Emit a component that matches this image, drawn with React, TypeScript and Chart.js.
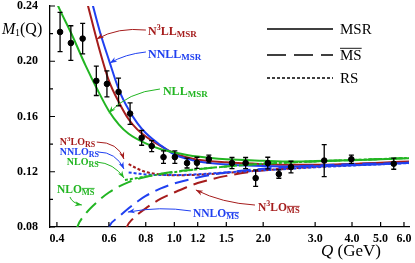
import React, { useEffect, useRef } from "react";
import { Chart, registerables } from "chart.js";
Chart.register(...registerables);

const GREEN = "#22b522";
const BLUE = "#2040f0";
const RED = "#a51c1c";
const SERIF = '"Liberation Serif", "DejaVu Serif", serif';

// Solid (MSR) curves
const Q_NLL_MSR = [0.39, 0.40, 0.45, 0.50, 0.55, 0.60, 0.65, 0.70, 0.80, 0.90, 1.0, 1.2, 1.5, 2.0, 2.5, 3.0, 4.0, 5.0, 6.3];
const M_NLL_MSR = [0.248, 0.242, 0.219, 0.197, 0.179, 0.164, 0.154, 0.1475, 0.1405, 0.1363, 0.134, 0.131, 0.129, 0.128, 0.1275, 0.1277, 0.1283, 0.129, 0.1298];
const Q_NNLL_MSR = [0.52, 0.53, 0.56, 0.60, 0.65, 0.70, 0.75, 0.80, 0.90, 1.0, 1.1, 1.2, 1.5, 2.0, 2.5, 3.0, 4.0, 5.0, 6.3];
const M_NNLL_MSR = [0.247, 0.240, 0.221, 0.201, 0.179, 0.165, 0.155, 0.148, 0.139, 0.1325, 0.1295, 0.1275, 0.1252, 0.1242, 0.1238, 0.124, 0.1247, 0.1255, 0.1265];
const Q_N3LL_MSR = [0.50, 0.51, 0.55, 0.60, 0.65, 0.70, 0.75, 0.80, 0.90, 1.0, 1.1, 1.2, 1.5, 2.0, 2.5, 3.0, 4.0, 5.0, 6.3];
const M_N3LL_MSR = [0.247, 0.240, 0.213, 0.186, 0.170, 0.158, 0.1505, 0.1455, 0.1385, 0.1333, 0.1305, 0.1287, 0.1268, 0.1255, 0.125, 0.125, 0.1257, 0.1265, 0.1275];

// Dashed (MS-bar) curves
const Q_NLO_MSB = [0.465, 0.47, 0.50, 0.55, 0.60, 0.70, 0.80, 0.90, 1.0, 1.2, 1.5, 2.0, 3.0, 4.0, 5.0, 6.3];
const M_NLO_MSB = [0.077, 0.0805, 0.0895, 0.0985, 0.105, 0.1125, 0.1163, 0.1185, 0.120, 0.1218, 0.1238, 0.1258, 0.1275, 0.1285, 0.1292, 0.130];
const Q_NNLO_MSB = [0.595, 0.60, 0.65, 0.70, 0.75, 0.80, 0.90, 1.0, 1.2, 1.5, 2.0, 3.0, 4.0, 5.0, 6.3];
const M_NNLO_MSB = [0.0775, 0.080, 0.0875, 0.0935, 0.0985, 0.1025, 0.108, 0.1115, 0.1158, 0.1195, 0.1222, 0.1245, 0.1255, 0.126, 0.1265];
const Q_N3LO_MSB = [0.685, 0.69, 0.72, 0.80, 0.90, 1.0, 1.1, 1.2, 1.5, 2.0, 3.0, 4.0, 5.0, 6.3];
const M_N3LO_MSB = [0.0775, 0.080, 0.0855, 0.0935, 0.1005, 0.105, 0.1088, 0.1118, 0.117, 0.121, 0.1242, 0.1255, 0.1262, 0.127];

// Dotted (RS) curves
const Q_NLO_RS = [0.68, 0.75, 0.80, 0.90, 1.0, 1.2, 1.5, 2.0, 3.0, 4.0, 5.0, 6.3];
const M_NLO_RS = [0.114, 0.1155, 0.1165, 0.1183, 0.1197, 0.1218, 0.1238, 0.1258, 0.1275, 0.1285, 0.1292, 0.130];
const Q_NNLO_RS = [0.70, 0.75, 0.80, 0.90, 1.0, 1.2, 1.5, 2.0, 3.0, 4.0, 5.0, 6.3];
const M_NNLO_RS = [0.1195, 0.1187, 0.118, 0.1176, 0.1176, 0.1182, 0.1195, 0.121, 0.1232, 0.1245, 0.1254, 0.1263];
const Q_N3LO_RS = [0.70, 0.75, 0.80, 0.90, 1.0, 1.2, 1.5, 2.0, 3.0, 4.0, 5.0, 6.3];
const M_N3LO_RS = [0.1255, 0.1222, 0.1198, 0.118, 0.1175, 0.1178, 0.1192, 0.121, 0.1235, 0.125, 0.126, 0.127];

// Data points with errors
const Q_POINTS = [0.410, 0.446, 0.489, 0.544, 0.591, 0.647, 0.708, 0.775, 0.838, 0.919, 1.004, 1.104, 1.193, 1.309, 1.568, 1.744, 1.886, 2.073, 2.26, 2.485, 3.22, 3.98, 5.54];
const M_POINTS = [0.2212, 0.2132, 0.2164, 0.1858, 0.1836, 0.1778, 0.1621, 0.1446, 0.1386, 0.1306, 0.1306, 0.1263, 0.1265, 0.1292, 0.1263, 0.1263, 0.1154, 0.1263, 0.1183, 0.1234, 0.1281, 0.1291, 0.1258];
const E_POINTS = [0.0142, 0.0125, 0.011, 0.0106, 0.0094, 0.010, 0.0078, 0.0054, 0.004, 0.0045, 0.0045, 0.0036, 0.004, 0.0028, 0.004, 0.004, 0.006, 0.0042, 0.003, 0.0042, 0.0116, 0.003, 0.004];

const X_TICKS = [0.4, 0.6, 0.8, 1.0, 1.2, 1.5, 2.0, 3.0, 4.0, 5.0, 6.0];
const Y_TICKS = [0.08, 0.12, 0.16, 0.20, 0.24];
const Y_MINOR = [0.10, 0.14, 0.18, 0.22];

type Seg = { t: string; s: number; dy?: number; over?: boolean };
// label anchor [Q, M], segments, colour
const LABELS: { at: [number, number]; segs: Seg[]; color: string }[] = [
  { at: [0.814, 0.219], color: RED, segs: [{ t: "N", s: 12 }, { t: "3", s: 8, dy: -5 }, { t: "LL", s: 12 }, { t: "MSR", s: 9, dy: 2 }] },
  { at: [0.814, 0.2023], color: BLUE, segs: [{ t: "NNLL", s: 12 }, { t: "MSR", s: 9, dy: 2 }] },
  { at: [0.915, 0.1759], color: GREEN, segs: [{ t: "NLL", s: 12 }, { t: "MSR", s: 9, dy: 2 }] },
  { at: [0.409, 0.1394], color: RED, segs: [{ t: "N", s: 10 }, { t: "3", s: 7, dy: -4 }, { t: "LO", s: 10 }, { t: "RS", s: 8, dy: 2 }] },
  { at: [0.409, 0.1321], color: BLUE, segs: [{ t: "NNLO", s: 10 }, { t: "RS", s: 8, dy: 2 }] },
  { at: [0.432, 0.1249], color: GREEN, segs: [{ t: "NLO", s: 10 }, { t: "RS", s: 8, dy: 2 }] },
  { at: [0.400, 0.1046], color: GREEN, segs: [{ t: "NLO", s: 11.5 }, { t: "MS", s: 8.5, dy: 2, over: true }] },
  { at: [1.156, 0.0872], color: BLUE, segs: [{ t: "NNLO", s: 11.5 }, { t: "MS", s: 8.5, dy: 2, over: true }] },
  { at: [1.92, 0.0916], color: RED, segs: [{ t: "N", s: 11.5 }, { t: "3", s: 8, dy: -5 }, { t: "LO", s: 11.5 }, { t: "MS", s: 8.5, dy: 2, over: true }] },
];
// arrows: start, control, end in data coordinates
const ARROWS: { p: [number, number][]; color: string }[] = [
  { color: RED, p: [[0.801, 0.2226], [0.644, 0.2248], [0.546, 0.2161]] },
  { color: BLUE, p: [[0.801, 0.2067], [0.680, 0.2052], [0.605, 0.1987]] },
  { color: GREEN, p: [[0.894, 0.1799], [0.696, 0.1777], [0.600, 0.1625]] },
  { color: RED, p: [[0.546, 0.1415], [0.644, 0.1415], [0.675, 0.1292]] },
  { color: BLUE, p: [[0.551, 0.1343], [0.634, 0.1343], [0.675, 0.1220]] },
  { color: GREEN, p: [[0.546, 0.1270], [0.624, 0.1263], [0.675, 0.1155]] },
  { color: GREEN, p: [[0.443, 0.1017], [0.450, 0.0973], [0.486, 0.0959]] },
  { color: BLUE, p: [[1.138, 0.0916], [0.894, 0.0952], [0.696, 0.0908]] },
  { color: RED, p: [[1.876, 0.0959], [1.450, 0.0973], [1.183, 0.1068]] },
];

const zip = (q: number[], m: number[]) => q.map((x, i) => ({ x, y: m[i] }));

function drawRich(ctx: CanvasRenderingContext2D, segs: Seg[], x: number, y: number, color: string, bold = true, italicFirst = false) {
  let cx = x;
  ctx.fillStyle = color;
  ctx.strokeStyle = color;
  segs.forEach((g, i) => {
    ctx.font = `${italicFirst && i === 0 ? "italic " : ""}${bold ? "bold " : ""}${g.s}px ${SERIF}`;
    const yy = y + (g.dy || 0);
    ctx.fillText(g.t, cx, yy);
    const w = ctx.measureText(g.t).width;
    if (g.over) {
      ctx.lineWidth = 0.9;
      ctx.beginPath();
      ctx.moveTo(cx, yy - g.s * 0.78);
      ctx.lineTo(cx + w, yy - g.s * 0.78);
      ctx.stroke();
    }
    cx += w;
  });
}

const overlay = {
  id: "overlay",
  afterDatasetsDraw(chart: any) {
    const ctx: CanvasRenderingContext2D = chart.ctx;
    const xs = chart.scales.x;
    const ys = chart.scales.y;
    const ca = chart.chartArea;
    const P = (q: number, m: number) => [xs.getPixelForValue(q), ys.getPixelForValue(m)];
    ctx.save();
    // error bars
    ctx.strokeStyle = "#000";
    ctx.lineWidth = 1.3;
    Q_POINTS.forEach((q, i) => {
      const x = xs.getPixelForValue(q);
      const y1 = ys.getPixelForValue(M_POINTS[i] + E_POINTS[i]);
      const y2 = ys.getPixelForValue(M_POINTS[i] - E_POINTS[i]);
      ctx.beginPath();
      ctx.moveTo(x, y1); ctx.lineTo(x, y2);
      ctx.moveTo(x - 2.5, y1); ctx.lineTo(x + 2.5, y1);
      ctx.moveTo(x - 2.5, y2); ctx.lineTo(x + 2.5, y2);
      ctx.stroke();
    });
    // arrows
    ARROWS.forEach((a) => {
      const [s, c, e] = a.p.map(([q, m]) => P(q, m));
      ctx.strokeStyle = a.color;
      ctx.fillStyle = a.color;
      ctx.lineWidth = 1;
      ctx.beginPath();
      ctx.moveTo(s[0], s[1]);
      ctx.quadraticCurveTo(c[0], c[1], e[0], e[1]);
      ctx.stroke();
      const ang = Math.atan2(e[1] - c[1], e[0] - c[0]);
      const L = 7, W = 2.6;
      ctx.beginPath();
      ctx.moveTo(e[0], e[1]);
      ctx.lineTo(e[0] - L * Math.cos(ang) + W * Math.sin(ang), e[1] - L * Math.sin(ang) - W * Math.cos(ang));
      ctx.lineTo(e[0] - L * 0.7 * Math.cos(ang), e[1] - L * 0.7 * Math.sin(ang));
      ctx.lineTo(e[0] - L * Math.cos(ang) - W * Math.sin(ang), e[1] - L * Math.sin(ang) + W * Math.cos(ang));
      ctx.closePath();
      ctx.fill();
    });
    // labels
    ctx.textBaseline = "alphabetic";
    ctx.textAlign = "left";
    LABELS.forEach((l) => {
      const [x, y] = P(l.at[0], l.at[1]);
      drawRich(ctx, l.segs, x, y, l.color);
    });
    // legend
    const lx0 = ca.right - 142, lx1 = ca.right - 76, tx = ca.right - 69;
    const rows: { y: number; dash: number[]; segs: Seg[] }[] = [
      { y: ca.top + 23, dash: [], segs: [{ t: "MSR", s: 15 }] },
      { y: ca.top + 49, dash: [19, 8], segs: [{ t: "MS", s: 15, over: true }] },
      { y: ca.top + 72, dash: [3, 2], segs: [{ t: "RS", s: 15 }] },
    ];
    rows.forEach((r) => {
      ctx.strokeStyle = "#000";
      ctx.lineWidth = 1.6;
      ctx.setLineDash(r.dash);
      ctx.beginPath();
      ctx.moveTo(lx0, r.y);
      ctx.lineTo(lx1, r.y);
      ctx.stroke();
      ctx.setLineDash([]);
      drawRich(ctx, r.segs, tx, r.y + 5, "#000", false);
    });
    // axis titles
    drawRich(ctx, [{ t: "M", s: 16 }], 2, 34, "#000", false, true);
    drawRich(ctx, [{ t: "1", s: 10, dy: 2 }, { t: "(Q)", s: 16 }], 15, 34, "#000", false);
    drawRich(ctx, [{ t: "Q", s: 17 }, { t: " (GeV)", s: 17 }], 321, 256, "#000", false, true);
    // inward ticks
    ctx.strokeStyle = "#000";
    ctx.lineWidth = 1.2;
    ctx.beginPath();
    Y_TICKS.forEach((v) => { const y = ys.getPixelForValue(v); ctx.moveTo(ca.left, y); ctx.lineTo(ca.left + 5, y); });
    Y_MINOR.forEach((v) => { const y = ys.getPixelForValue(v); ctx.moveTo(ca.left, y); ctx.lineTo(ca.left + 3, y); });
    X_TICKS.forEach((v) => { const x = xs.getPixelForValue(v); ctx.moveTo(x, ca.bottom); ctx.lineTo(x, ca.bottom - 5); });
    ctx.stroke();
    ctx.restore();
  },
};

export default function App() {
  const ref = useRef<HTMLCanvasElement>(null);
  useEffect(() => {
    if (!ref.current) return;
    const solid = (q: number[], m: number[], c: string) => ({
      data: zip(q, m), borderColor: c, borderWidth: 2, pointRadius: 0, fill: false, cubicInterpolationMode: "monotone", order: 2,
    });
    const dashed = (q: number[], m: number[], c: string) => ({
      ...solid(q, m, c), borderDash: [14, 7],
    });
    const dotted = (q: number[], m: number[], c: string) => ({
      ...solid(q, m, c), borderDash: [3, 2],
    });
    const chart = new Chart(ref.current, {
      type: "line",
      data: {
        datasets: [
          solid(Q_NLL_MSR, M_NLL_MSR, GREEN),
          dashed(Q_NLO_MSB, M_NLO_MSB, GREEN),
          dotted(Q_NLO_RS, M_NLO_RS, GREEN),
          solid(Q_NNLL_MSR, M_NNLL_MSR, BLUE),
          dashed(Q_NNLO_MSB, M_NNLO_MSB, BLUE),
          dotted(Q_NNLO_RS, M_NNLO_RS, BLUE),
          solid(Q_N3LL_MSR, M_N3LL_MSR, RED),
          dashed(Q_N3LO_MSB, M_N3LO_MSB, RED),
          dotted(Q_N3LO_RS, M_N3LO_RS, RED),
          {
            data: zip(Q_POINTS, M_POINTS), showLine: false, pointRadius: 2.8, pointBackgroundColor: "#000",
            pointBorderColor: "#000", borderColor: "#000", order: 0,
          },
        ] as any,
      },
      options: {
        responsive: false,
        animation: false,
        events: [],
        layout: { padding: { top: 6, right: 6, left: 0, bottom: 0 } },
        plugins: { legend: { display: false }, tooltip: { enabled: false } },
        scales: {
          x: {
            type: "logarithmic",
            min: 0.379,
            max: 6.24,
            grid: { display: false },
            border: { display: true, color: "#000", width: 1.3 },
            afterBuildTicks: (s: any) => { s.ticks = X_TICKS.map((v) => ({ value: v })); },
            afterFit: (s: any) => { s.height = 36; s.paddingLeft = 0; s.paddingRight = 0; },
            ticks: {
              autoSkip: false, maxRotation: 0, padding: -3, color: "#000",
              font: { family: SERIF, weight: "bold", size: 12 },
              callback: (v: any) => Number(v).toFixed(1),
            },
          },
          y: {
            type: "linear",
            min: 0.08,
            max: 0.24,
            grid: { display: false },
            border: { display: true, color: "#000", width: 1.3 },
            afterBuildTicks: (s: any) => { s.ticks = Y_TICKS.map((v) => ({ value: v })); },
            afterFit: (s: any) => { s.width = 50; s.paddingTop = 0; s.paddingBottom = 0; },
            ticks: {
              padding: 4, color: "#000",
              font: { family: SERIF, weight: "bold", size: 12 },
              callback: (v: any) => Number(v).toFixed(2),
            },
          },
        },
      } as any,
      plugins: [overlay],
    });
    return () => chart.destroy();
  }, []);
  return (
    <div style={{ position: "absolute", left: 0, top: 0, width: 415, height: 263, background: "#fff" }}>
      <canvas ref={ref} width={415} height={263} style={{ display: "block" }} />
    </div>
  );
}
